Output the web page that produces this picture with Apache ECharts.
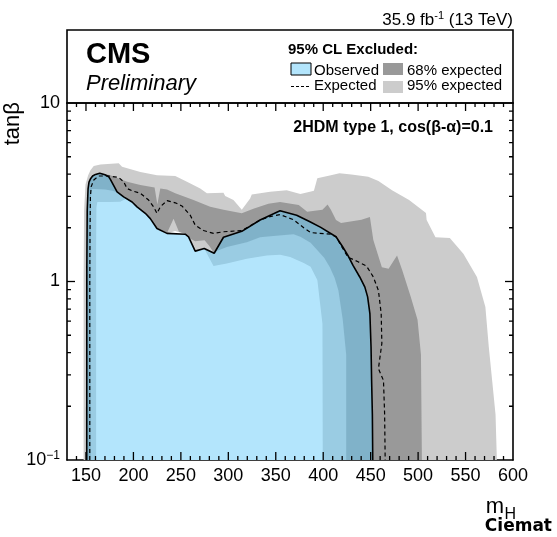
<!DOCTYPE html>
<html>
<head>
<meta charset="utf-8">
<script src="https://cdn.jsdelivr.net/npm/echarts@6/dist/echarts.min.js"></script>
<style>
html, body { margin: 0; padding: 0; background: #fff; }
#chart { width: 557px; height: 537px; }
</style>
</head>
<body>
<div id="chart"></div>
<script>
var FONT = '"Liberation Sans", Arial, Helvetica, sans-serif';

// axis ticks / labels
var xLabels = [150, 200, 250, 300, 350, 400, 450, 500, 550, 600];
var xMajorTicks = [150, 200, 250, 300, 350, 400, 450, 500, 550];
var xMinorTicks = [140, 160, 170, 180, 190, 210, 220, 230, 240, 260, 270, 280, 290,
	310, 320, 330, 340, 360, 370, 380, 390, 410, 420, 430, 440, 460, 470, 480, 490,
	510, 520, 530, 540, 560, 570, 580, 590];
var yMajorTicks = [1];
var yMinorTicks = [0.2, 0.3, 0.4, 0.5, 0.6, 0.7, 0.8, 0.9, 2, 3, 4, 5, 6, 7, 8, 9];

// contours [mH, tanb]
var observed = [[150.8,0.1],[150.9,1.2],[151.3,2.5],[152.2,3.3],[153.2,3.6],[155,3.78],[157,3.9],[160,3.98],
	[164.5,4.04],[170,3.96],[174,3.86],[175.7,3.73],[182.8,3.18],[189.7,2.98],[198.6,2.79],[203.8,2.62],
	[212.5,2.41],[217.8,2.25],[224.8,1.98],[235.4,1.86],[254.6,1.84],[258.1,1.78],[265.1,1.48],[274.6,1.53],
	[285.1,1.44],[294.9,1.77],[314.2,1.91],[333.5,2.21],[354.5,2.49],[372,2.35],[386,2.16],[397.4,2.01],
	[413.5,1.78],[420.6,1.56],[426,1.4],[431.4,1.23],[438.5,1.06],[443.9,0.93],[446.8,0.82],[449.2,0.66],
	[450.4,0.43],[451,0.28],[451.8,0.18],[452.2,0.1]];

var expected = [[154,0.1],[154,1.0],[154.3,2.0],[154.7,3.0],[155.5,3.4],[158.2,3.7],[163.4,3.9],[174,3.9],
	[184.5,3.83],[189.7,3.62],[193.3,3.32],[198.6,3.22],[207.3,3.12],[216,2.86],[221.3,2.62],[224.8,2.41],
	[228.3,2.62],[235.4,2.84],[244.1,2.76],[251.1,2.65],[259.9,2.35],[265.1,2.07],[273.8,1.93],[284.4,1.86],
	[294.9,1.9],[314.2,1.93],[323,2.05],[333.5,2.21],[344,2.31],[354.5,2.37],[368.5,2.22],[379.5,2.0],
	[386.7,1.88],[408,1.84],[413.5,1.78],[420,1.55],[426,1.37],[436.7,1.29],[445.7,1.22],[452.8,1.06],
	[458.2,0.89],[461.1,0.66],[461.8,0.45],[458.2,0.325],[463.5,0.279],[464.7,0.182],[465.3,0.1]];

var band95Up = [[147.5,0.1],[147.5,1.0],[148,2.5],[149.5,3.5],[152.3,3.94],[154.7,4.2],[158.2,4.43],[165.2,4.52],
	[184.5,4.59],[188,4.39],[207.3,4.11],[224.8,3.94],[244.1,3.9],[256.4,3.62],[270.4,3.32],[277.4,3.12],
	[294.9,3.14],[296.7,3.01],[305.4,2.86],[314.2,2.52],[323,2.92],[324.7,3.07],[344,3.18],[361.5,3.25],
	[375.9,3.09],[386,3.18],[390.2,3.22],[393.8,3.79],[408.1,3.94],[417.1,4.04],[429.6,3.98],[447.5,3.86],
	[458.2,3.66],[472.5,3.25],[490.5,2.86],[508.3,2.42],[509,2.21],[518.3,1.77],[533.4,1.75],[547.7,1.43],
	[562,1.06],[570.9,0.72],[574.5,0.43],[578,0.28],[581.6,0.18],[583,0.1]];

var band68Up = [[151,0.1],[151,1.0],[151.5,2.5],[152.8,3.5],[156.5,3.94],[165.2,4.06],[175.7,3.94],[193.3,3.62],
	[207.3,3.47],[222.3,3.36],[225.2,2.7],[228.3,3.32],[235.4,3.28],[244.1,3.12],[263.3,2.86],[280.9,2.62],
	[294.9,2.52],[314.2,2.41],[326.4,2.56],[342.2,2.73],[354.5,2.79],[374.2,2.68],[383.1,2.46],[399.2,2.52],
	[404.6,2.7],[408.1,2.52],[413.5,2.21],[418.8,2.13],[440.3,2.22],[449.2,2.3],[452.8,1.71],[461.8,1.2],
	[468.9,1.18],[477.8,1.4],[483.2,1.16],[492.3,0.82],[499.4,0.61],[503,0.39],[504,0.1]];

var band68Down = [[155,0.1],[155,1.5],[155.2,3.0],[156.2,3.3],[160,3.3],[170,3.28],[178,3.22],[182.8,3.15],
	[189.7,2.96],[198.6,2.78],[203.8,2.61],[212.5,2.4],[217.8,2.24],[224.8,1.98],[235.4,1.87],[242.3,2.25],
	[248,1.9],[254.6,1.85],[258.1,1.76],[265,1.68],[275,1.7],[280,1.58],[284.4,1.46],[298.4,1.56],
	[319.5,1.66],[333.5,1.77],[347.5,1.8],[368.8,1.84],[375.9,1.78],[386.7,1.65],[401,1.36],[407,1.2],
	[412,1.05],[416,0.89],[420.6,0.61],[424.2,0.39],[424.2,0.1]];

var band95Down = [[160.7,0.1],[160.7,1.5],[161,2.6],[162,2.79],[175,2.79],[186,2.8],[192,2.9],[198.6,2.79],
	[203.8,2.62],[212.5,2.41],[217.8,2.25],[224.8,1.98],[235.4,1.86],[244,1.92],[254.6,1.84],[258.1,1.78],
	[265.1,1.48],[274.6,1.53],[280,1.35],[284.4,1.22],[298.4,1.26],[319.5,1.34],[340.5,1.4],[354.5,1.41],
	[365.2,1.37],[379.5,1.27],[386.7,1.21],[393.8,1.02],[399.2,0.58],[399.5,0.1]];

var X_MIN = 130, X_MAX = 600, Y_MIN = 0.1, Y_MAX = 10;

var chart = echarts.init(document.getElementById('chart'), null, {renderer: 'canvas'});

function area(name, pts, color) {
	return {
		type: 'custom',
		name: name,
		coordinateSystem: 'cartesian2d',
		xAxisIndex: 0,
		yAxisIndex: 0,
		data: pts,
		clip: true,
		silent: true,
		animation: false,
		renderItem: function (params, api) {
			if (params.dataIndex !== 0) return null;
			var poly = pts.map(function (p) { return api.coord(p); });
			return {type: 'polygon', shape: {points: poly}, style: {fill: color, stroke: null}};
		}
	};
}

// inward ticks along one side of the frame, filled as one comb-shaped polygon
function comb(values, side, len) {
	var anchors = values.map(function (v) {
		if (side === 'bottom') return [v, Y_MIN];
		if (side === 'top') return [v, Y_MAX];
		if (side === 'left') return [X_MIN, v];
		return [X_MAX, v];
	});
	var w = 0.65;
	return {
		type: 'custom',
		name: 'ticks ' + side,
		coordinateSystem: 'cartesian2d',
		xAxisIndex: 0,
		yAxisIndex: 0,
		data: anchors,
		clip: true,
		silent: true,
		animation: false,
		renderItem: function (params, api) {
			if (params.dataIndex !== 0) return null;
			var pts = [];
			anchors.forEach(function (d) {
				var p = api.coord(d), x = p[0], y = p[1];
				if (side === 'bottom') pts.push([x - w, y], [x - w, y - len], [x + w, y - len], [x + w, y]);
				else if (side === 'top') pts.push([x - w, y], [x - w, y + len], [x + w, y + len], [x + w, y]);
				else if (side === 'left') pts.push([x, y + w], [x + len, y + w], [x + len, y - w], [x, y - w]);
				else pts.push([x, y + w], [x - len, y + w], [x - len, y - w], [x, y - w]);
			});
			return {type: 'polygon', shape: {points: pts}, style: {fill: '#000', stroke: null}};
		}
	};
}

function logLabel(v) {
	var e = Math.round(Math.log(v) / Math.LN10);
	if (e === 1) return '10';
	if (e === 0) return '1';
	if (e === -1) return '{b|10}{s|\u22121}';
	return '';
}

var axisLine = {show: true, onZero: false, lineStyle: {color: '#000', width: 1.6}};

var texts = [
	{type: 'rect', shape: {x: 67, y: 30, width: 446, height: 73}, style: {fill: null, stroke: '#000', lineWidth: 1.6}},
	{type: 'text', x: 513, y: 20, style: {
		text: '{a|35.9 fb}{s|-1}{a| (13 TeV)}', align: 'right', verticalAlign: 'middle',
		rich: {
			a: {fontSize: 17, fontFamily: FONT, fill: '#000', lineHeight: 20},
			s: {fontSize: 11, fontFamily: FONT, fill: '#000', verticalAlign: 'top', lineHeight: 12}
		}
	}},
	{type: 'text', x: 86, y: 55.4, style: {text: 'CMS', fontSize: 29, fontWeight: 'bold', fontFamily: FONT, fill: '#000', verticalAlign: 'middle'}},
	{type: 'text', x: 86, y: 84.2, style: {text: 'Preliminary', fontSize: 22, fontStyle: 'italic', fontFamily: FONT, fill: '#000', verticalAlign: 'middle'}},
	{type: 'text', x: 288, y: 49.5, style: {text: '95% CL Excluded:', fontSize: 15, fontWeight: 'bold', fontFamily: FONT, fill: '#000', verticalAlign: 'middle'}},
	{type: 'rect', shape: {x: 291, y: 63, width: 20, height: 12}, style: {fill: '#b3e5fc', stroke: '#000', lineWidth: 1}},
	{type: 'text', x: 314, y: 70.5, style: {text: 'Observed', fontSize: 15, fontFamily: FONT, fill: '#000', verticalAlign: 'middle'}},
	{type: 'rect', shape: {x: 383, y: 63, width: 20, height: 12}, style: {fill: '#999999'}},
	{type: 'text', x: 407, y: 70.5, style: {text: '68% expected', fontSize: 15, fontFamily: FONT, fill: '#000', verticalAlign: 'middle'}},
	{type: 'line', shape: {x1: 291, y1: 86.5, x2: 311, y2: 86.5}, style: {stroke: '#000', lineWidth: 1, lineDash: [3, 2]}},
	{type: 'text', x: 314, y: 86.2, style: {text: 'Expected', fontSize: 15, fontFamily: FONT, fill: '#000', verticalAlign: 'middle'}},
	{type: 'rect', shape: {x: 383, y: 81, width: 20, height: 12}, style: {fill: '#cccccc'}},
	{type: 'text', x: 407, y: 86.2, style: {text: '95% expected', fontSize: 15, fontFamily: FONT, fill: '#000', verticalAlign: 'middle'}},
	{type: 'text', x: 493, y: 127.7, style: {text: '2HDM type 1, cos(\u03b2-\u03b1)=0.1', fontSize: 16, fontWeight: 'bold', fontFamily: FONT, fill: '#000', align: 'right', verticalAlign: 'middle'}},
	{type: 'text', x: 12.7, y: 102, rotation: Math.PI / 2, style: {text: 'tan\u03b2', fontSize: 22, fontFamily: FONT, fill: '#000', align: 'right', verticalAlign: 'middle'}},
	{type: 'text', x: 504, y: 507, style: {text: 'm', fontSize: 22, fontFamily: FONT, fill: '#000', align: 'right', verticalAlign: 'middle'}},
	{type: 'text', x: 516, y: 515, style: {text: 'H', fontSize: 16, fontFamily: FONT, fill: '#000', align: 'right', verticalAlign: 'middle'}},
	{type: 'text', x: 552, y: 527, style: {text: 'Ciemat', fontSize: 17, fontWeight: 900, fontFamily: '"DejaVu Sans", sans-serif', fill: '#000', align: 'right', verticalAlign: 'middle'}}
];

var option = {
	backgroundColor: '#fff',
	animation: false,
	grid: {left: 67, right: 44, top: 103, bottom: 77, show: false},
	xAxis: [
		{
			type: 'value', min: X_MIN, max: X_MAX, position: 'bottom',
			axisLine: axisLine, axisTick: {show: false},
			axisLabel: {show: true, customValues: xLabels, fontSize: 18, fontFamily: FONT, color: '#000', margin: 7},
			splitLine: {show: false}
		},
		{
			type: 'value', min: X_MIN, max: X_MAX, position: 'top',
			axisLine: axisLine, axisTick: {show: false}, axisLabel: {show: false}, splitLine: {show: false}
		}
	],
	yAxis: [
		{
			type: 'log', logBase: 10, min: Y_MIN, max: Y_MAX, position: 'left',
			axisLine: axisLine, axisTick: {show: false},
			axisLabel: {
				show: true, showMinLabel: true, showMaxLabel: true, margin: 7,
				fontSize: 18, fontFamily: FONT, color: '#000',
				formatter: logLabel,
				rich: {
					b: {fontSize: 18, fontFamily: FONT, color: '#000', lineHeight: 20},
					s: {fontSize: 12, fontFamily: FONT, color: '#000', verticalAlign: 'top', lineHeight: 12}
				}
			},
			splitLine: {show: false}
		},
		{
			type: 'log', logBase: 10, min: Y_MIN, max: Y_MAX, position: 'right',
			axisLine: axisLine, axisTick: {show: false}, axisLabel: {show: false}, splitLine: {show: false}
		}
	],
	series: [
		area('95% expected', band95Up, '#cccccc'),
		area('68% expected', band68Up, '#999999'),
		area('68% inner', band68Down, '#cccccc'),
		area('95% inner', band95Down, '#ffffff'),
		{
			type: 'line', name: 'Expected', data: expected, xAxisIndex: 0, yAxisIndex: 0,
			symbol: 'none', showSymbol: false, silent: true, clip: true,
			lineStyle: {color: '#000', width: 1.2, type: [4, 3]}
		},
		area('Observed', observed, 'rgba(103,203,249,0.5)'),
		{
			type: 'line', name: 'Observed line', data: observed, xAxisIndex: 0, yAxisIndex: 0,
			symbol: 'none', showSymbol: false, silent: true, clip: true,
			lineStyle: {color: '#000', width: 1.6}
		},
		comb(xMajorTicks, 'bottom', 8),
		comb(xMinorTicks, 'bottom', 4),
		comb(xMajorTicks, 'top', 8),
		comb(xMinorTicks, 'top', 4),
		comb(yMajorTicks, 'left', 8),
		comb(yMinorTicks, 'left', 4),
		comb(yMajorTicks, 'right', 8),
		comb(yMinorTicks, 'right', 4)
	],
	graphic: texts
};
chart.setOption(option);
</script>
</body>
</html>
